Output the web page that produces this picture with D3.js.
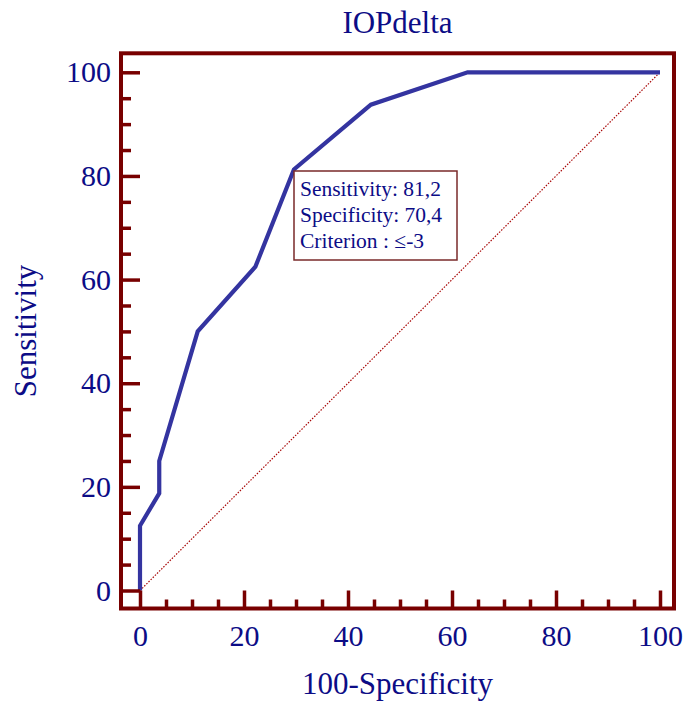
<!DOCTYPE html>
<html>
<head>
<meta charset="utf-8">
<script src="https://cdn.jsdelivr.net/npm/d3@7"></script>
<style>
  html, body { margin: 0; padding: 0; background: #fff; }
  svg { display: block; }
  text { font-family: "Liberation Serif", "Times New Roman", serif; }
</style>
</head>
<body>
<svg id="chart" width="683" height="701"></svg>
<script>
// ROC curve data: 100-Specificity (x) and Sensitivity (y)
const fpr = [0, 0, 3.7, 3.7, 11.1, 22.2, 29.6, 44.4, 63.0, 100];
const tpr = [0, 12.5, 18.75, 25, 50, 62.5, 81.25, 93.75, 100, 100];
const majorTicks = [0, 20, 40, 60, 80, 100];
const minorTicks = [5, 10, 15, 25, 30, 35, 45, 50, 55, 65, 70, 75, 85, 90, 95];
const titleText = "IOPdelta";
const xTitle = "100-Specificity";
const yTitle = "Sensitivity";
const annotLines = ["Sensitivity: 81,2", "Specificity: 70,4", "Criterion : \u2264-3"];

const navy = "#0c0c86";
const frameCol = "#780000";
const curveCol = "#3434a0";

const svg = d3.select("#chart");
const x = d3.scaleLinear().domain([0, 100]).range([140, 660]);
const y = d3.scaleLinear().domain([0, 100]).range([590.5, 72.3]);

const fL = x(0) - 19, fR = x(100) + 14, fT = y(100) - 19, fB = y(0) + 18;

// diagonal reference line
svg.append("line")
  .attr("x1", x(0)).attr("y1", y(0)).attr("x2", x(100)).attr("y2", y(100))
  .attr("stroke", "#a80808").attr("stroke-width", 1.2)
  .attr("stroke-dasharray", "1.5,1.5");

// ROC curve
const pts = fpr.map((d, i) => [d, tpr[i]]);
svg.append("path")
  .datum(pts)
  .attr("d", d3.line().x(d => x(d[0])).y(d => y(d[1])))
  .attr("fill", "none").attr("stroke", curveCol).attr("stroke-width", 4.2)
  .attr("stroke-linejoin", "miter");

// ticks (inward from frame)
function styleTicks(g) {
  g.select(".domain").remove();
  g.selectAll(".tick line").attr("stroke", frameCol).attr("stroke-width", 3.5);
  g.selectAll(".tick text").remove();
}
svg.append("g").attr("transform", `translate(${fL},0)`)
  .call(d3.axisRight(y).tickValues(majorTicks).tickSize(19)).call(styleTicks);
svg.append("g").attr("transform", `translate(${fL},0)`)
  .call(d3.axisRight(y).tickValues(minorTicks).tickSize(10)).call(styleTicks);
svg.append("g").attr("transform", `translate(0,${fB})`)
  .call(d3.axisTop(x).tickValues(majorTicks).tickSize(18)).call(styleTicks);
svg.append("g").attr("transform", `translate(0,${fB})`)
  .call(d3.axisTop(x).tickValues(minorTicks).tickSize(9)).call(styleTicks);

// tick labels
const yl = svg.append("g").attr("transform", `translate(${fL},0)`)
  .call(d3.axisLeft(y).tickValues(majorTicks).tickSize(0).tickPadding(10));
yl.select(".domain").remove();
yl.selectAll("text").attr("font-size", 30).attr("fill", navy)
  .attr("font-family", "Liberation Serif");
const xl = svg.append("g").attr("transform", `translate(0,${fB})`)
  .call(d3.axisBottom(x).tickValues(majorTicks).tickSize(0).tickPadding(16));
xl.select(".domain").remove();
xl.selectAll("text").attr("font-size", 30).attr("fill", navy)
  .attr("font-family", "Liberation Serif");

// frame
svg.append("rect")
  .attr("x", fL).attr("y", fT).attr("width", fR - fL).attr("height", fB - fT)
  .attr("fill", "none").attr("stroke", frameCol).attr("stroke-width", 4);

// annotation box
const ax = 294, ay = 171;
svg.append("rect").attr("x", ax).attr("y", ay).attr("width", 163).attr("height", 89)
  .attr("fill", "#fff").attr("stroke", "#7a2a2a").attr("stroke-width", 1.5);
svg.append("g").selectAll("text").data(annotLines).join("text")
  .attr("x", ax + 6).attr("y", (d, i) => ay + 25 + i * 26)
  .attr("font-size", 21.5).attr("fill", navy).text(d => d);

// titles
svg.append("text").attr("x", (fL + fR) / 2).attr("y", 33).attr("text-anchor", "middle")
  .attr("font-size", 31).attr("fill", navy).text(titleText);
svg.append("text").attr("x", (fL + fR) / 2).attr("y", 694).attr("text-anchor", "middle")
  .attr("font-size", 31).attr("fill", navy).text(xTitle);
svg.append("text").attr("transform", `translate(36,331) rotate(-90)`).attr("text-anchor", "middle")
  .attr("font-size", 31).attr("fill", navy).text(yTitle);
</script>
</body>
</html>
